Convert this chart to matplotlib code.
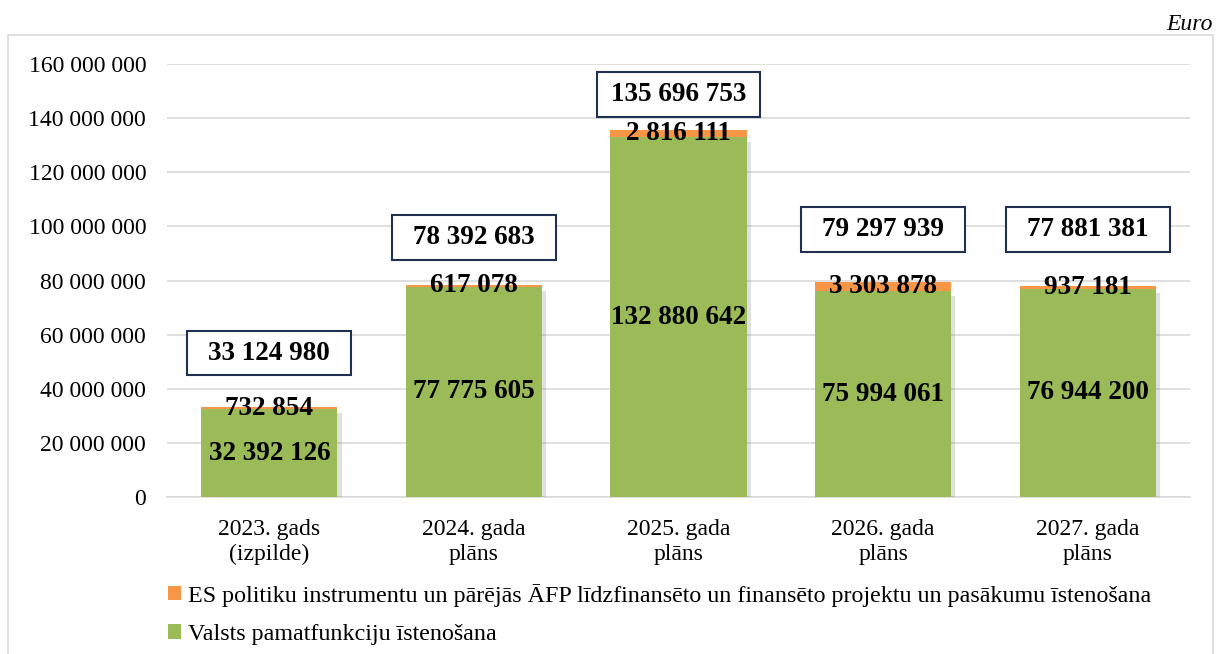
import matplotlib.pyplot as plt
import matplotlib.patheffects as pe
from matplotlib.patches import Rectangle
import numpy as np

categories = ["2023. gads\n(izpilde)", "2024. gada\nplāns", "2025. gada\nplāns",
              "2026. gada\nplāns", "2027. gada\nplāns"]
valsts = [32392126, 77775605, 132880642, 75994061, 76944200]
es_projekti = [732854, 617078, 2816111, 3303878, 937181]
kopa = [33124980, 78392683, 135696753, 79297939, 77881381]

label_valsts = "Valsts pamatfunkciju īstenošana"
label_es = "ES politiku instrumentu un pārējās ĀFP līdzfinansēto un finansēto projektu un pasākumu īstenošana"

# where the total boxes sit (centre, in y units), set by hand like in the original
box_y = [53.2e6, 96e6, 148.6e6, 98.7e6, 98.7e6]

green = "#9BBB59"
orange = "#F79646"
grid = "#D9D9D9"

plt.rcParams["font.family"] = ["Liberation Serif", "DejaVu Serif"]

fig = plt.figure(figsize=(12.2, 6.54), dpi=100)
ax = fig.add_axes([0.1369, 0.2401, 0.8385, 0.662])

fig.patches.append(Rectangle((8 / 1220, -0.05), 1205 / 1220, 1.05 - 35 / 654,
                             transform=fig.transFigure, fill=False,
                             edgecolor=grid, linewidth=1.2))
fig.text(1213 / 1220, 1 - 25 / 654, "Euro", ha="right", va="center",
         fontsize=17, style="italic")

x = np.arange(len(categories))
w = 0.665
shadow = [pe.SimplePatchShadow(offset=(3, -3), alpha=0.18, shadow_rgbFace="#555555"), pe.Normal()]
b1 = ax.bar(x, valsts, w, color=green, zorder=3, path_effects=shadow)
b2 = ax.bar(x, es_projekti, w, bottom=valsts, color=orange, zorder=3)


def fmt(v):
    return f"{v:,}".replace(",", " ")


for i in range(len(x)):
    ax.text(x[i], valsts[i] / 2, fmt(valsts[i]), ha="center", va="center",
            fontsize=19.5, fontweight="bold", zorder=5)
    ax.text(x[i], valsts[i] + es_projekti[i] / 2, fmt(es_projekti[i]), ha="center",
            va="center", fontsize=19.5, fontweight="bold", zorder=5)
    bw, bh = 0.80, 16.6e6
    ax.add_patch(Rectangle((x[i] - bw / 2, box_y[i] - bh / 2), bw, bh, facecolor="white",
                           edgecolor="#1F3050", linewidth=1.5, zorder=4))
    ax.text(x[i], box_y[i], fmt(kopa[i]), ha="center", va="center",
            fontsize=19.5, fontweight="bold", zorder=5)

ax.set_xlim(-0.5, len(x) - 0.5)
ax.set_ylim(0, 160e6)
ax.set_yticks(np.arange(0, 160e6 + 1, 20e6))
ax.set_yticklabels([fmt(int(v)) for v in np.arange(0, 160e6 + 1, 20e6)])
ax.set_xticks(x)
ax.set_xticklabels(categories, linespacing=1.25)
ax.tick_params(axis="both", length=0, labelsize=17)
ax.tick_params(axis="y", pad=15)
ax.tick_params(axis="x", pad=15.5)
ax.grid(axis="y", color=grid, linewidth=1.2, zorder=0)
ax.set_axisbelow(True)
for s in ["top", "right", "left"]:
    ax.spines[s].set_visible(False)
ax.spines["bottom"].set_color(grid)
ax.spines["bottom"].set_linewidth(1.2)

h_es = Rectangle((0, 0), 1, 1, facecolor=orange)
h_valsts = Rectangle((0, 0), 1, 1, facecolor=green)
leg = fig.legend(handles=[h_es, h_valsts], labels=[label_es, label_valsts], loc="upper left",
                 bbox_to_anchor=(158 / 1220, 1 - 574 / 654), frameon=False, fontsize=17.3,
                 handlelength=0.55, handleheight=0.55, handletextpad=0.3,
                 labelspacing=0.72, borderaxespad=0)

fig.savefig("out.png", dpi=100)
